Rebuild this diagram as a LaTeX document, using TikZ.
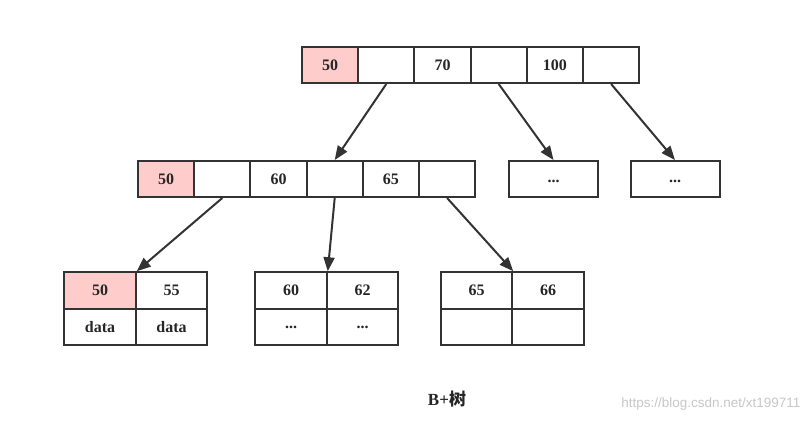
\documentclass[tikz,border=0pt]{standalone}
\usepackage{fontspec}
\setmainfont{Liberation Serif}
\newfontfamily\cjk{Noto Sans CJK SC}
\newfontfamily\wmfont{Liberation Sans}
\usetikzlibrary{arrows.meta}
\definecolor{pinkcell}{HTML}{FFCCCC}
\definecolor{edgegray}{HTML}{333333}
\tikzset{
  cell/.style={draw=edgegray, line width=2pt, rectangle, minimum width=56.2pt, minimum height=36pt, inner sep=0pt, font=\fontsize{16}{18}\selectfont\bfseries, text=black!85},
  hl/.style={fill=pinkcell},
  leafcell/.style={cell, minimum width=71.5pt, minimum height=36.5pt},
  dotbox/.style={cell, minimum width=89pt},
  link/.style={draw=edgegray, line width=2pt, -{Triangle[length=14pt,width=11pt]}}
}
\begin{document}
\begin{tikzpicture}[x=1pt,y=-1pt]
\useasboundingbox (0,0) rectangle (810,423);
% top row
\node[cell,hl] (t1) at (330.1,65) {50};
\node[cell] (t2) at (386.3,65) {};
\node[cell] (t3) at (442.5,65) {70};
\node[cell] (t4) at (498.7,65) {};
\node[cell] (t5) at (554.9,65) {100};
\node[cell] (t6) at (611.1,65) {};
% middle row
\node[cell,hl] (m1) at (166.1,179) {50};
\node[cell] (m2) at (222.3,179) {};
\node[cell] (m3) at (278.5,179) {60};
\node[cell] (m4) at (334.7,179) {};
\node[cell] (m5) at (390.9,179) {65};
\node[cell] (m6) at (447.1,179) {};
\node[dotbox] (d1) at (553.5,179) {\raisebox{-7pt}{...}};
\node[dotbox] (d2) at (675,179) {\raisebox{-7pt}{...}};
% leaves
\node[leafcell,hl] (l1a) at (100,290.5) {50};
\node[leafcell] (l1b) at (171.5,290.5) {55};
\node[leafcell] (l1c) at (100,327) {data};
\node[leafcell] (l1d) at (171.5,327) {data};
\node[leafcell] (l2a) at (291,290.5) {60};
\node[leafcell] (l2b) at (362.5,290.5) {62};
\node[leafcell] (l2c) at (291,327) {\raisebox{-3pt}{...}};
\node[leafcell] (l2d) at (362.5,327) {\raisebox{-3pt}{...}};
\node[leafcell] (l3a) at (476.5,290.5) {65};
\node[leafcell] (l3b) at (548,290.5) {66};
\node[leafcell] (l3c) at (476.5,327) {};
\node[leafcell] (l3d) at (548,327) {};
% connectors
\draw[link] (t2.south) -- (m4.north);
\draw[link] (t4.south) -- (d1.north);
\draw[link] (t6.south) -- (d2.north);
\draw[link] (m2.south) -- (l1a.north east);
\draw[link] (m4.south) -- (l2a.north east);
\draw[link] (m6.south) -- (l3a.north east);
% caption
\node[font=\fontsize{17}{19}\selectfont\bfseries, text=black!85] (cap) at (447,399) {B+{\cjk 树}};
\node[font=\wmfont\fontsize{13.5}{15}\selectfont, text=black!22, anchor=east] (wm) at (804,404) {https://blog.csdn.net/xt199711};
\end{tikzpicture}
\end{document}
